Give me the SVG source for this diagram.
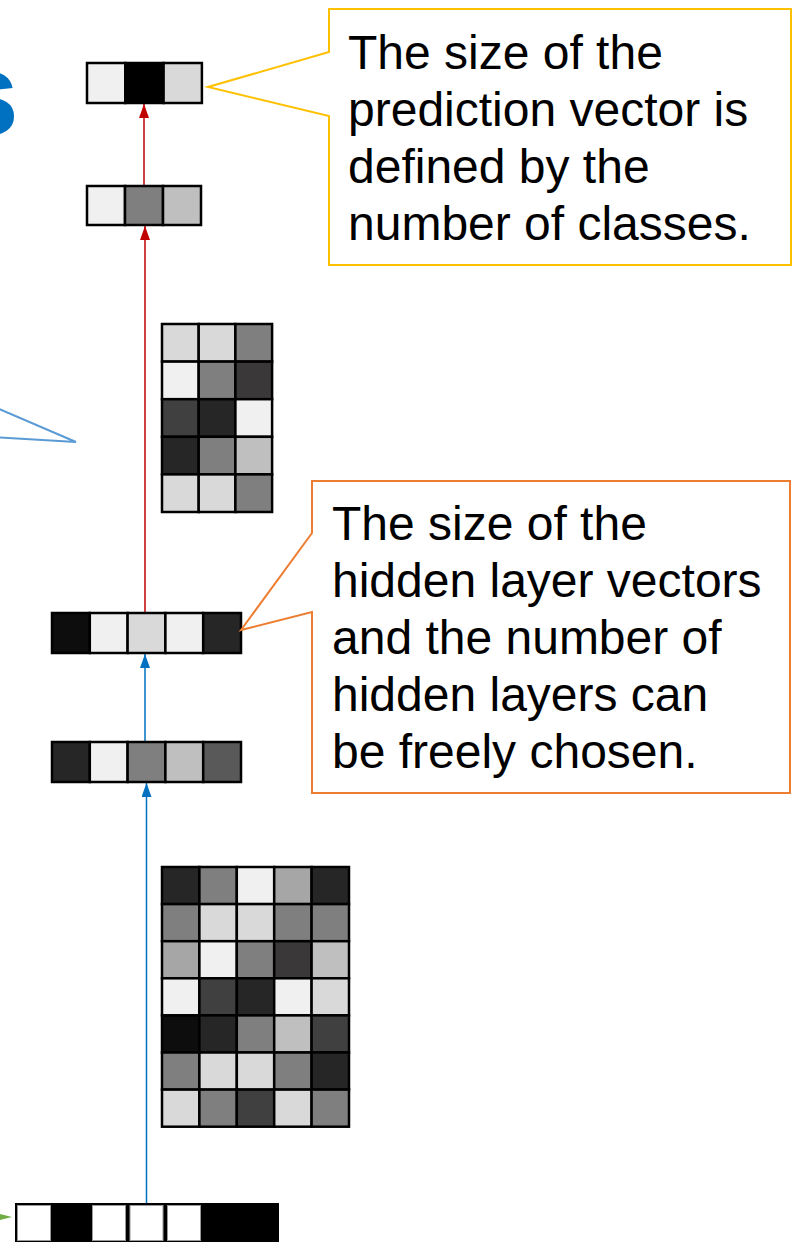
<svg xmlns="http://www.w3.org/2000/svg" width="793" height="1242" viewBox="0 0 793 1242">
<style>
.c{stroke:#000;stroke-width:2.5}
.g0{fill:#000}.g0d{fill:#0d0d0d}.g26{fill:#262626}.g3a{fill:#3a3838}.g40{fill:#404040}.g5a{fill:#595959}.g80{fill:#7f7f7f}.ga6{fill:#a6a6a6}.gbf{fill:#bfbfbf}.gd9{fill:#d9d9d9}.gf0{fill:#f0f0f0}.gff{fill:#fff}
.t{font-family:"Liberation Sans",Arial,sans-serif;font-size:48px;fill:#000}
.ar{fill:none;stroke-width:1.5}
</style>
<defs>
<marker id="mr" viewBox="0 0 14 10" refX="14" refY="5" markerWidth="14" markerHeight="10" markerUnits="userSpaceOnUse" orient="auto"><path d="M0,0 L14,5 L0,10 Z" fill="#C00000"/></marker>
<marker id="mb" viewBox="0 0 14 10" refX="14" refY="5" markerWidth="14" markerHeight="10" markerUnits="userSpaceOnUse" orient="auto"><path d="M0,0 L14,5 L0,10 Z" fill="#0070C0"/></marker>
</defs>
<rect width="793" height="1242" fill="#fff"/>
<g id="title-fragment">
<text x="19" y="135" text-anchor="end" font-family="Liberation Sans, Arial, sans-serif" font-weight="bold" font-size="118" fill="#0070C0">s</text>
</g>
<g id="left-callout">
<path d="M-10,405 L76,442 L-10,437" fill="none" stroke="#5B9BD5" stroke-width="2"/>
</g>
<g id="green-arrow">
<path d="M0,1214 L12,1217 L0,1220 Z" fill="#70AD47"/>
</g>
<g id="connectors">
<line class="ar" x1="144" y1="186" x2="144" y2="104" stroke="#C00000" marker-end="url(#mr)"/>
<line class="ar" x1="145" y1="613" x2="145" y2="226" stroke="#C00000" marker-end="url(#mr)"/>
<line class="ar" x1="145" y1="742" x2="145" y2="654" stroke="#0070C0" marker-end="url(#mb)"/>
<line class="ar" x1="146.5" y1="1203" x2="146.5" y2="783" stroke="#0070C0" marker-end="url(#mb)"/>
</g>
<g id="output-vector">
<rect class="c gf0" x="87" y="63" width="38.3" height="40"/>
<rect class="c g0" x="125.3" y="63" width="38.3" height="40"/>
<rect class="c gd9" x="163.6" y="63" width="38.3" height="40"/>
</g>
<g id="logit-vector">
<rect class="c gf0" x="87" y="186" width="38" height="39"/>
<rect class="c g80" x="125" y="186" width="38" height="39"/>
<rect class="c gbf" x="163" y="186" width="38" height="39"/>
</g>
<g id="weights-2">
<rect class="c gd9" x="162" y="324" width="36.7" height="37.6"/>
<rect class="c gd9" x="198.7" y="324" width="36.7" height="37.6"/>
<rect class="c g80" x="235.4" y="324" width="36.7" height="37.6"/>
<rect class="c gf0" x="162" y="361.6" width="36.7" height="37.6"/>
<rect class="c g80" x="198.7" y="361.6" width="36.7" height="37.6"/>
<rect class="c g3a" x="235.4" y="361.6" width="36.7" height="37.6"/>
<rect class="c g40" x="162" y="399.2" width="36.7" height="37.6"/>
<rect class="c g26" x="198.7" y="399.2" width="36.7" height="37.6"/>
<rect class="c gf0" x="235.4" y="399.2" width="36.7" height="37.6"/>
<rect class="c g26" x="162" y="436.8" width="36.7" height="37.6"/>
<rect class="c g80" x="198.7" y="436.8" width="36.7" height="37.6"/>
<rect class="c gbf" x="235.4" y="436.8" width="36.7" height="37.6"/>
<rect class="c gd9" x="162" y="474.4" width="36.7" height="37.6"/>
<rect class="c gd9" x="198.7" y="474.4" width="36.7" height="37.6"/>
<rect class="c g80" x="235.4" y="474.4" width="36.7" height="37.6"/>
</g>
<g id="hidden-2">
<rect class="c g0d" x="52" y="613" width="37.8" height="40"/>
<rect class="c gf0" x="89.8" y="613" width="37.8" height="40"/>
<rect class="c gd9" x="127.6" y="613" width="37.8" height="40"/>
<rect class="c gf0" x="165.4" y="613" width="37.8" height="40"/>
<rect class="c g26" x="203.2" y="613" width="37.8" height="40"/>
</g>
<g id="hidden-1">
<rect class="c g26" x="52" y="742" width="37.8" height="40"/>
<rect class="c gf0" x="89.8" y="742" width="37.8" height="40"/>
<rect class="c g80" x="127.6" y="742" width="37.8" height="40"/>
<rect class="c gbf" x="165.4" y="742" width="37.8" height="40"/>
<rect class="c g5a" x="203.2" y="742" width="37.8" height="40"/>
</g>
<g id="weights-1">
<rect class="c g26" x="162" y="867" width="37.4" height="37.1"/>
<rect class="c g80" x="199.4" y="867" width="37.4" height="37.1"/>
<rect class="c gf0" x="236.8" y="867" width="37.4" height="37.1"/>
<rect class="c ga6" x="274.2" y="867" width="37.4" height="37.1"/>
<rect class="c g26" x="311.6" y="867" width="37.4" height="37.1"/>
<rect class="c g80" x="162" y="904.1" width="37.4" height="37.1"/>
<rect class="c gd9" x="199.4" y="904.1" width="37.4" height="37.1"/>
<rect class="c gd9" x="236.8" y="904.1" width="37.4" height="37.1"/>
<rect class="c g80" x="274.2" y="904.1" width="37.4" height="37.1"/>
<rect class="c g80" x="311.6" y="904.1" width="37.4" height="37.1"/>
<rect class="c ga6" x="162" y="941.2" width="37.4" height="37.1"/>
<rect class="c gf0" x="199.4" y="941.2" width="37.4" height="37.1"/>
<rect class="c g80" x="236.8" y="941.2" width="37.4" height="37.1"/>
<rect class="c g3a" x="274.2" y="941.2" width="37.4" height="37.1"/>
<rect class="c gbf" x="311.6" y="941.2" width="37.4" height="37.1"/>
<rect class="c gf0" x="162" y="978.3" width="37.4" height="37.1"/>
<rect class="c g40" x="199.4" y="978.3" width="37.4" height="37.1"/>
<rect class="c g26" x="236.8" y="978.3" width="37.4" height="37.1"/>
<rect class="c gf0" x="274.2" y="978.3" width="37.4" height="37.1"/>
<rect class="c gd9" x="311.6" y="978.3" width="37.4" height="37.1"/>
<rect class="c g0d" x="162" y="1015.4" width="37.4" height="37.1"/>
<rect class="c g26" x="199.4" y="1015.4" width="37.4" height="37.1"/>
<rect class="c g80" x="236.8" y="1015.4" width="37.4" height="37.1"/>
<rect class="c gbf" x="274.2" y="1015.4" width="37.4" height="37.1"/>
<rect class="c g40" x="311.6" y="1015.4" width="37.4" height="37.1"/>
<rect class="c g80" x="162" y="1052.5" width="37.4" height="37.1"/>
<rect class="c gd9" x="199.4" y="1052.5" width="37.4" height="37.1"/>
<rect class="c gd9" x="236.8" y="1052.5" width="37.4" height="37.1"/>
<rect class="c g80" x="274.2" y="1052.5" width="37.4" height="37.1"/>
<rect class="c g26" x="311.6" y="1052.5" width="37.4" height="37.1"/>
<rect class="c gd9" x="162" y="1089.6" width="37.4" height="37.1"/>
<rect class="c g80" x="199.4" y="1089.6" width="37.4" height="37.1"/>
<rect class="c g40" x="236.8" y="1089.6" width="37.4" height="37.1"/>
<rect class="c gd9" x="274.2" y="1089.6" width="37.4" height="37.1"/>
<rect class="c g80" x="311.6" y="1089.6" width="37.4" height="37.1"/>
</g>
<g id="input-vector">
<rect x="15" y="1203" width="264" height="40" fill="#000"/>
<rect x="17.5" y="1205.5" width="33" height="35" fill="#fff" stroke="#999" stroke-width="1"/>
<rect x="92.5" y="1205.5" width="33" height="35" fill="#fff" stroke="#999" stroke-width="1"/>
<rect x="130" y="1205.5" width="33" height="35" fill="#fff" stroke="#999" stroke-width="1"/>
<rect x="167.5" y="1205.5" width="33" height="35" fill="#fff" stroke="#999" stroke-width="1"/>
</g>
<g id="callout-prediction">
<path d="M329,9 H791 V265 H329 V116 L208,87 L329,52 Z" fill="#fff" stroke="#FFC000" stroke-width="2"/>
<text class="t"><tspan x="348" y="69">The size of the</tspan><tspan x="348" y="126">prediction vector is</tspan><tspan x="348" y="183">defined by the</tspan><tspan x="348" y="240">number of classes.</tspan></text>
</g>
<g id="callout-hidden">
<path d="M312,481 H790 V793 H312 V612 L241,630 L312,533 Z" fill="#fff" stroke="#ED7D31" stroke-width="2"/>
<text class="t"><tspan x="332" y="540">The size of the</tspan><tspan x="332" y="597">hidden layer vectors</tspan><tspan x="332" y="654">and the number of</tspan><tspan x="332" y="711">hidden layers can</tspan><tspan x="332" y="768">be freely chosen.</tspan></text>
</g>
</svg>
